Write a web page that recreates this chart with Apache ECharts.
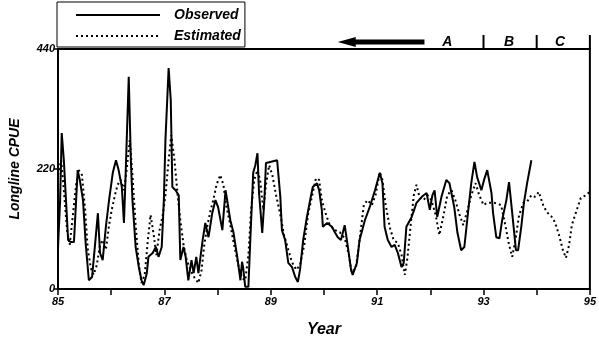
<!DOCTYPE html>
<html>
<head>
<meta charset="utf-8">
<script src="https://cdn.jsdelivr.net/npm/echarts@6/dist/echarts.min.js"></script>
<style>
  html, body { margin: 0; padding: 0; background: #fff; }
  #chart { width: 599px; height: 346px; }
</style>
</head>
<body>
<div id="chart"></div>
<script>
// Observed longline CPUE (fractional year, CPUE)
const obsYear = [85.00,85.04,85.07,85.11,85.15,85.19,85.24,85.30,85.37,85.41,85.47,85.52,85.58,85.64,85.67,85.75,85.79,85.84,85.90,85.96,
  86.03,86.09,86.14,86.20,86.24,86.27,86.33,86.37,86.40,86.46,86.52,86.57,86.61,86.67,86.70,86.78,86.84,86.89,86.95,86.99,
  87.02,87.08,87.12,87.15,87.21,87.27,87.30,87.36,87.40,87.45,87.51,87.55,87.60,87.64,87.72,87.77,87.83,87.90,87.96,
  88.01,88.09,88.15,88.18,88.24,88.30,88.37,88.43,88.46,88.48,88.52,88.58,88.61,88.67,88.71,88.75,88.78,88.84,88.88,88.91,88.99,
  89.12,89.18,89.21,89.27,89.33,89.40,89.46,89.51,89.55,89.61,89.68,89.74,89.79,89.87,89.91,89.96,89.98,
  90.06,90.15,90.21,90.26,90.32,90.39,90.45,90.51,90.54,90.62,90.67,90.77,90.86,90.96,
  91.05,91.10,91.14,91.20,91.27,91.33,91.39,91.46,91.50,91.55,91.65,91.74,91.84,91.93,91.99,
  92.04,92.08,92.13,92.21,92.30,92.36,92.45,92.51,92.58,92.64,92.70,92.77,92.83,92.88,92.96,
  93.01,93.07,93.15,93.18,93.24,93.30,93.35,93.43,93.48,93.54,93.61,93.65,93.71,93.76,93.82,93.90];
const obsCpue = [75,163,286,236,163,90,86,86,218,200,163,84,16,22,53,139,66,53,114,163,
  213,236,218,187,121,205,389,236,163,77,40,16,7,29,59,66,77,59,77,163,
  273,405,346,187,181,172,53,77,59,16,53,29,59,29,90,121,95,139,163,
  150,108,181,163,126,103,59,16,50,40,4,4,77,213,227,249,176,103,163,231,233,
  236,169,108,90,48,40,22,13,35,90,132,163,187,194,181,145,114,
  121,114,103,95,90,117,77,35,26,48,90,126,150,181,
  213,194,114,90,77,81,66,40,48,114,132,158,169,176,145,
  172,181,132,169,200,194,150,103,71,77,132,194,233,205,181,
  200,218,176,139,95,93,126,163,196,139,71,71,114,158,194,236];

// Model-estimated CPUE (fractional year, CPUE)
const estYear = [85.00,85.06,85.11,85.17,85.22,85.28,85.34,85.39,85.45,85.51,85.56,85.62,85.67,85.73,85.79,85.84,85.90,85.96,
  86.01,86.07,86.12,86.18,86.24,86.29,86.35,86.40,86.46,86.52,86.57,86.63,86.69,86.74,86.80,86.85,86.91,86.97,
  87.02,87.08,87.13,87.19,87.25,87.30,87.36,87.42,87.49,87.57,87.64,87.70,87.75,87.81,87.87,87.92,87.98,
  88.05,88.11,88.16,88.24,88.31,88.39,88.46,88.52,88.58,88.63,88.69,88.75,88.80,88.86,88.91,88.97,
  89.03,89.10,89.18,89.25,89.33,89.40,89.48,89.55,89.63,89.70,89.78,89.85,89.91,89.96,
  90.04,90.11,90.21,90.30,90.39,90.47,90.52,90.60,90.67,90.75,90.82,90.90,90.97,
  91.05,91.10,91.16,91.24,91.31,91.39,91.46,91.52,91.57,91.63,91.69,91.74,91.80,91.87,91.95,
  92.02,92.10,92.17,92.25,92.32,92.40,92.47,92.55,92.62,92.70,92.77,92.85,92.92,
  93.00,93.07,93.20,93.33,93.41,93.48,93.54,93.60,93.67,93.75,93.82,93.90,93.97,
  94.04,94.12,94.19,94.27,94.34,94.42,94.49,94.55,94.61,94.66,94.74,94.83,94.91,95.00];
const estCpue = [209,236,181,108,81,136,191,218,209,145,72,38,26,44,81,90,72,117,
  145,172,191,200,181,218,273,209,117,44,11,26,90,136,99,62,108,136,
  172,236,282,236,172,126,81,53,35,20,11,35,81,117,145,163,191,
  209,191,154,117,81,44,20,16,62,145,200,218,200,145,191,227,
  209,172,136,99,72,49,35,44,81,136,172,203,200,163,
  136,117,108,104,93,62,31,38,90,154,163,154,172,
  214,200,154,112,90,84,62,26,57,117,172,191,167,163,172,
  163,136,99,136,172,181,163,136,117,145,172,194,172,
  154,158,158,154,117,81,59,90,136,158,160,172,169,
  178,154,141,134,123,99,72,57,81,117,141,167,171,178];

// Axis ticks
const xTicks = [85, 87, 89, 91, 93, 95];
const yTicks = [0, 220, 440];

// Phase annotations along the top edge
const phaseBounds = [93, 94, 95];
const phaseNames = ['A', 'B', 'C'];
const phaseLabelYear = [92.32, 93.48, 94.44];
const arrowFromYear = 91.89;
const arrowToYear = 90.26;

const FONT = '"Liberation Sans", Arial, sans-serif';
const pair = (xs, ys) => xs.map((x, i) => [x, ys[i]]);

const chart = echarts.init(document.getElementById('chart'), null, { renderer: 'canvas' });

const option = {
  animation: false,
  backgroundColor: '#fff',
  grid: {
    left: 57, right: 8, top: 49, bottom: 57,
    show: true, borderColor: '#000', borderWidth: 2, backgroundColor: 'transparent'
  },
  legend: {
    orient: 'vertical',
    left: 57, top: 2,
    padding: [6, 4, 4, 18],
    itemWidth: 84, itemHeight: 14, itemGap: 7,
    borderColor: '#000', borderWidth: 1,
    backgroundColor: '#fff',
    itemStyle: { opacity: 0, borderWidth: 0 },
    textStyle: {
      fontFamily: FONT, fontSize: 14, fontStyle: 'italic', fontWeight: 'bold',
      color: '#000', padding: [0, 0, 0, 9]
    },
    data: ['Observed', 'Estimated']
  },
  xAxis: {
    type: 'value',
    min: 85, max: 95, interval: 1,
    name: 'Year', nameLocation: 'middle', nameGap: 33,
    nameTextStyle: { fontFamily: FONT, fontSize: 16, fontStyle: 'italic', fontWeight: 'bold', color: '#000' },
    axisLine: { lineStyle: { color: '#000', width: 2 } },
    axisTick: { show: true, inside: false, length: 6, lineStyle: { color: '#000', width: 1.5 } },
    splitLine: { show: false },
    axisLabel: {
      margin: 7,
      fontFamily: FONT, fontSize: 11, fontStyle: 'italic', fontWeight: 'bold', color: '#000',
      formatter: v => (xTicks.indexOf(Math.round(v)) >= 0 ? String(Math.round(v)) : '')
    }
  },
  yAxis: {
    type: 'value',
    min: 0, max: 440, interval: 220,
    name: 'Longline CPUE', nameLocation: 'middle', nameGap: 36, nameRotate: 90,
    nameTextStyle: { fontFamily: FONT, fontSize: 14, fontStyle: 'italic', fontWeight: 'bold', color: '#000' },
    axisLine: { show: true, lineStyle: { color: '#000', width: 2 } },
    axisTick: { show: true, inside: false, length: 4, lineStyle: { color: '#000', width: 1.5 } },
    splitLine: { show: false },
    axisLabel: {
      margin: 3,
      fontFamily: FONT, fontSize: 11, fontStyle: 'italic', fontWeight: 'bold', color: '#000',
      formatter: v => (yTicks.indexOf(v) >= 0 ? String(v) : '')
    }
  },
  series: [
    {
      name: 'Observed', type: 'line',
      data: pair(obsYear, obsCpue),
      symbol: 'none', smooth: false,
      lineStyle: { color: '#000', width: 2, type: 'solid' },
      itemStyle: { color: '#000' }
    },
    {
      name: 'Estimated', type: 'line',
      data: pair(estYear, estCpue),
      symbol: 'none', smooth: false,
      lineStyle: { color: '#000', width: 2, type: [2, 3] },
      itemStyle: { color: '#000' }
    }
  ]
};

chart.setOption(option);

// Phase markers above the plot: dividers, labels and the leftward arrow
const topY = chart.convertToPixel({ yAxisIndex: 0 }, 440);
const px = yr => chart.convertToPixel({ xAxisIndex: 0 }, yr);
const textStyle = { fontFamily: FONT, fontSize: 14, fontStyle: 'italic', fontWeight: 'bold', fill: '#000' };
const elements = [];

phaseBounds.forEach(b => {
  const x = px(b);
  elements.push({ type: 'line', shape: { x1: x, y1: topY - 14, x2: x, y2: topY }, style: { stroke: '#000', lineWidth: 2 } });
});
phaseNames.forEach((n, i) => {
  elements.push({
    type: 'text', x: px(phaseLabelYear[i]), y: topY - 7,
    style: Object.assign({ text: n, align: 'center', verticalAlign: 'middle' }, textStyle)
  });
});
const ax0 = px(arrowFromYear), ax1 = px(arrowToYear), ay = topY - 7;
elements.push({ type: 'line', shape: { x1: ax0, y1: ay, x2: ax1 + 14, y2: ay }, style: { stroke: '#000', lineWidth: 5 } });
elements.push({ type: 'polygon', shape: { points: [[ax1, ay], [ax1 + 18, ay - 5], [ax1 + 18, ay + 5]] }, style: { fill: '#000' } });

chart.setOption({ graphic: { elements: elements } });
</script>
</body>
</html>
